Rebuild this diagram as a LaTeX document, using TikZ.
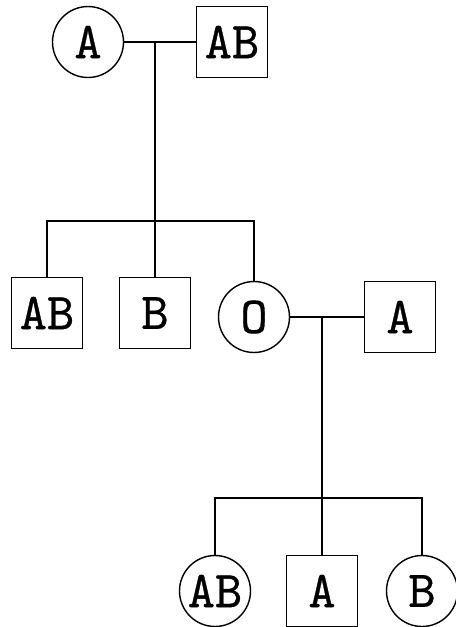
\documentclass[tikz,border=0pt]{standalone}
\usepackage{tikz}
\font\pedfont="[lmmono10-regular.otf]:embolden=0.6" at 29.5pt
\tikzset{
    female/.style={
        draw,
        circle,
        minimum size=1.42cm,
        inner sep=0pt,
        font=\pedfont
    },
    male/.style={
        draw,
        rectangle,
        minimum size=1.42cm,
        inner sep=0pt,
        font=\pedfont
    },
    pedline/.style={
        line width=0.8pt
    }
}

\begin{document}
\begin{tikzpicture}[x=0.02cm,y=-0.02cm,line width=0.8pt]

\useasboundingbox (0,0) rectangle (456,627);

% ---------------------------------------------------------
% First generation
% ---------------------------------------------------------
\node[female] (momA)  at (88,42)  {A};
\node[male]   (dadAB) at (232,42) {AB};

\coordinate (couple1) at (155,42);
\coordinate (sibs1)   at (155,221);

% ---------------------------------------------------------
% Second generation
% ---------------------------------------------------------
\node[male]   (sonAB)   at (47,313)  {AB};
\node[male]   (sonB)    at (155,313) {B};
\node[female] (daughtO) at (254,317) {O};
\node[male]   (husbA)   at (400,317) {A};

\coordinate (couple2) at (322,317);
\coordinate (sibs2)   at (322,498);

% ---------------------------------------------------------
% Third generation
% ---------------------------------------------------------
\node[female] (gdAB) at (215,591) {AB};
\node[male]   (gsA)  at (322,591) {A};
\node[female] (gdB)  at (422,591) {B};

% ---------------------------------------------------------
% Lines
% ---------------------------------------------------------
\draw[pedline] (momA.east) -- (dadAB.west);
\draw[pedline] (couple1) -- (sibs1);
\draw[pedline] (sibs1) -| (sonAB.north);
\draw[pedline] (sibs1) -| (daughtO.north);
\draw[pedline] (sibs1) -- (sonB.north);

\draw[pedline] (daughtO.east) -- (husbA.west);
\draw[pedline] (couple2) -- (sibs2);
\draw[pedline] (sibs2) -| (gdAB.north);
\draw[pedline] (sibs2) -| (gdB.north);
\draw[pedline] (sibs2) -- (gsA.north);

\end{tikzpicture}
\end{document}
